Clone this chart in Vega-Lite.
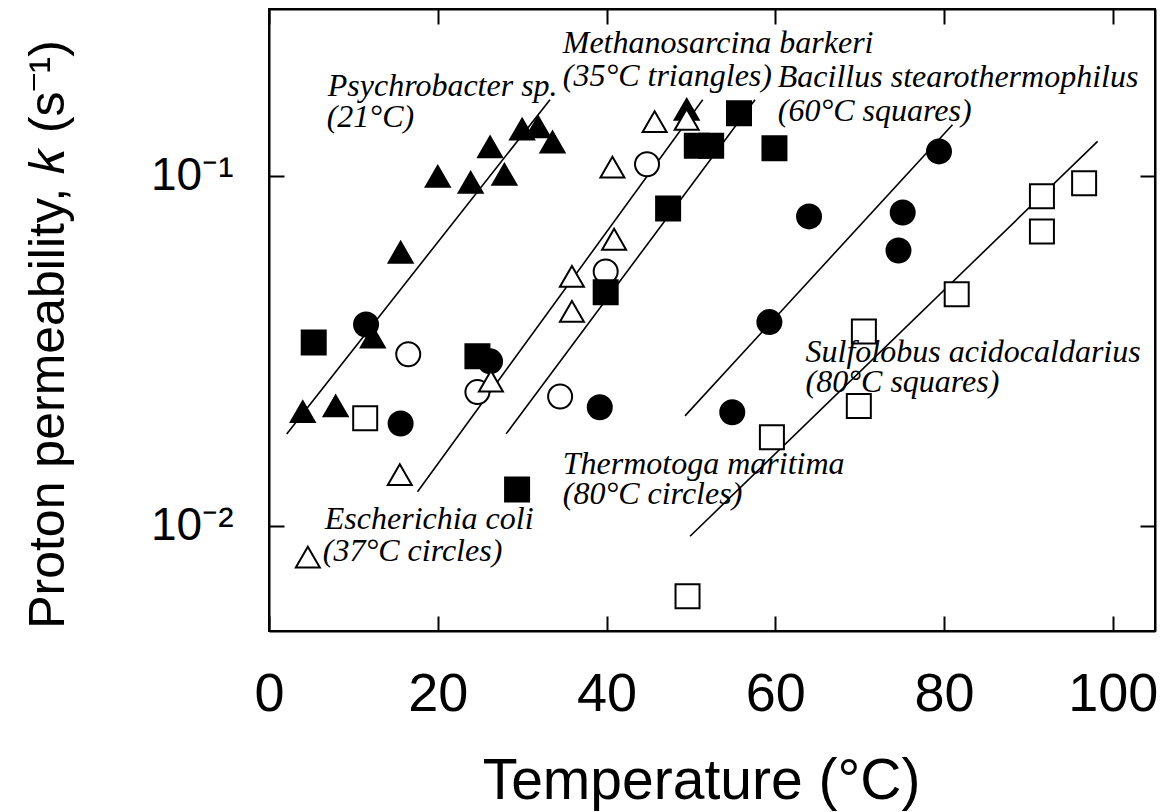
{
  "$schema": "https://vega.github.io/schema/vega-lite/v6.json",
  "width": 886,
  "height": 622,
  "autosize": {"type": "none"},
  "padding": {"left": 269, "top": 9, "right": 10, "bottom": 181},
  "background": "white",
  "config": {
    "view": {"stroke": "black", "strokeWidth": 2},
    "axis": {
      "domainColor": "black", "domainWidth": 2,
      "tickColor": "black", "tickWidth": 2,
      "labelColor": "black", "titleColor": "black",
      "labelFont": "Liberation Sans", "titleFont": "Liberation Sans",
      "titleFontWeight": "normal", "grid": false, "labelFlush": false
    }
  },
  "datasets": {
    "lines": [
      {"series": "Psychrobacter", "temp": 2.1, "k": 0.0183},
      {"series": "Psychrobacter", "temp": 33.3, "k": 0.165},
      {"series": "E. coli", "temp": 17.6, "k": 0.0125},
      {"series": "E. coli", "temp": 51.4, "k": 0.165},
      {"series": "Bacillus", "temp": 28.1, "k": 0.0183},
      {"series": "Bacillus", "temp": 57.6, "k": 0.165},
      {"series": "Thermotoga", "temp": 49.3, "k": 0.0206},
      {"series": "Thermotoga", "temp": 81.0, "k": 0.140},
      {"series": "Sulfolobus", "temp": 49.9, "k": 0.00933},
      {"series": "Sulfolobus", "temp": 98.2, "k": 0.1255}
    ],
    "points": [
      {"species": "E. coli", "temp": 44.8, "k": 0.108},
      {"species": "E. coli", "temp": 39.9, "k": 0.0533},
      {"species": "E. coli", "temp": 16.5, "k": 0.0309},
      {"species": "E. coli", "temp": 24.7, "k": 0.0241},
      {"species": "E. coli", "temp": 34.5, "k": 0.0234},
      {"species": "Bacillus", "temp": 55.7, "k": 0.151},
      {"species": "Bacillus", "temp": 50.7, "k": 0.122},
      {"species": "Bacillus", "temp": 52.4, "k": 0.122},
      {"species": "Bacillus", "temp": 59.9, "k": 0.120},
      {"species": "Bacillus", "temp": 47.3, "k": 0.0807},
      {"species": "Bacillus", "temp": 39.9, "k": 0.0465},
      {"species": "Bacillus", "temp": 5.3, "k": 0.0334},
      {"species": "Bacillus", "temp": 24.7, "k": 0.0305},
      {"species": "Bacillus", "temp": 29.4, "k": 0.0127},
      {"species": "Thermotoga", "temp": 11.5, "k": 0.0376},
      {"species": "Thermotoga", "temp": 15.6, "k": 0.0196},
      {"species": "Thermotoga", "temp": 26.2, "k": 0.0295},
      {"species": "Thermotoga", "temp": 39.2, "k": 0.0218},
      {"species": "Thermotoga", "temp": 54.9, "k": 0.0211},
      {"species": "Thermotoga", "temp": 59.3, "k": 0.0382},
      {"species": "Thermotoga", "temp": 79.4, "k": 0.1175},
      {"species": "Thermotoga", "temp": 64.0, "k": 0.0766},
      {"species": "Thermotoga", "temp": 75.1, "k": 0.0786},
      {"species": "Thermotoga", "temp": 74.6, "k": 0.0612},
      {"species": "Psychrobacter", "temp": 4.0, "k": 0.0212},
      {"species": "Psychrobacter", "temp": 7.9, "k": 0.0220},
      {"species": "Psychrobacter", "temp": 12.3, "k": 0.0346},
      {"species": "Psychrobacter", "temp": 15.6, "k": 0.0605},
      {"species": "Psychrobacter", "temp": 20.0, "k": 0.0997},
      {"species": "Psychrobacter", "temp": 23.9, "k": 0.0958},
      {"species": "Psychrobacter", "temp": 26.2, "k": 0.121},
      {"species": "Psychrobacter", "temp": 27.9, "k": 0.101},
      {"species": "Psychrobacter", "temp": 30.0, "k": 0.136},
      {"species": "Psychrobacter", "temp": 31.9, "k": 0.138},
      {"species": "Psychrobacter", "temp": 33.6, "k": 0.125},
      {"species": "Psychrobacter", "temp": 49.5, "k": 0.155},
      {"species": "Methanosarcina", "temp": 45.7, "k": 0.143},
      {"species": "Methanosarcina", "temp": 49.5, "k": 0.145},
      {"species": "Methanosarcina", "temp": 40.7, "k": 0.106},
      {"species": "Methanosarcina", "temp": 40.9, "k": 0.0659},
      {"species": "Methanosarcina", "temp": 35.9, "k": 0.0516},
      {"species": "Methanosarcina", "temp": 35.9, "k": 0.0410},
      {"species": "Methanosarcina", "temp": 26.3, "k": 0.0259},
      {"species": "Methanosarcina", "temp": 15.5, "k": 0.0140},
      {"species": "Methanosarcina", "temp": 4.6, "k": 0.00813},
      {"species": "Sulfolobus", "temp": 11.4, "k": 0.0203},
      {"species": "Sulfolobus", "temp": 49.6, "k": 0.00629},
      {"species": "Sulfolobus", "temp": 59.6, "k": 0.0179},
      {"species": "Sulfolobus", "temp": 69.9, "k": 0.0220},
      {"species": "Sulfolobus", "temp": 70.5, "k": 0.0359},
      {"species": "Sulfolobus", "temp": 81.5, "k": 0.0459},
      {"species": "Sulfolobus", "temp": 91.6, "k": 0.0874},
      {"species": "Sulfolobus", "temp": 91.6, "k": 0.0694},
      {"species": "Sulfolobus", "temp": 96.6, "k": 0.0952}
    ],
    "notes": [
      {"label": "Psychrobacter sp.", "temp": 6.96, "k": 0.1687},
      {"label": "(21°C)", "temp": 6.84, "k": 0.1376},
      {"label": "Methanosarcina barkeri", "temp": 34.81, "k": 0.2239},
      {"label": "(35°C triangles)", "temp": 34.81, "k": 0.1802},
      {"label": "Bacillus stearothermophilus", "temp": 60.3, "k": 0.179},
      {"label": "(60°C squares)", "temp": 60.3, "k": 0.144},
      {"label": "Escherichia coli", "temp": 6.61, "k": 0.00977},
      {"label": "(37°C circles)", "temp": 6.37, "k": 0.00792},
      {"label": "Thermotoga maritima", "temp": 34.81, "k": 0.01404},
      {"label": "(80°C circles)", "temp": 34.81, "k": 0.01151},
      {"label": "Sulfolobus acidocaldarius", "temp": 63.59, "k": 0.02931},
      {"label": "(80°C squares)", "temp": 63.59, "k": 0.02406}
    ]
  },
  "layer": [
    {
      "data": {"name": "lines"},
      "mark": {"type": "line", "stroke": "black", "strokeWidth": 1.6},
      "encoding": {
        "x": {
          "field": "temp", "type": "quantitative",
          "scale": {"domain": [0, 105], "nice": false, "zero": false},
          "axis": {
            "orient": "bottom", "values": [0, 20, 40, 60, 80, 100],
            "tickSize": -15, "labelFontSize": 54, "labelPadding": 51, "labelFlush": false,
            "title": "Temperature (°C)", "titleFontSize": 57,
            "titleX": 432, "titleY": 167, "titleBaseline": "alphabetic", "titleAlign": "center"
          }
        },
        "y": {
          "field": "k", "type": "quantitative",
          "scale": {"type": "log", "domain": [0.005, 0.3], "nice": false},
          "axis": {
            "orient": "left", "values": [0.01, 0.1],
            "labelExpr": "datum.value > 0.05 ? '10⁻¹' : '10⁻²'",
            "tickSize": -15, "labelFontSize": 46, "labelPadding": 51,
            "title": "Proton permeability, 𝑘 (s⁻¹)", "titleFontSize": 50,
            "titleX": -221, "titleY": 325, "titleAngle": -90,
            "titleBaseline": "middle", "titleAlign": "center"
          }
        },
        "detail": {"field": "series"}
      }
    },
    {
      "data": {"name": "points"},
      "mark": {"type": "point", "filled": true, "stroke": "black", "strokeWidth": 2, "opacity": 1},
      "encoding": {
        "x": {
          "field": "temp", "type": "quantitative",
          "axis": {"orient": "top", "values": [0, 20, 40, 60, 80, 100], "labels": false, "title": null, "tickSize": -15}
        },
        "y": {
          "field": "k", "type": "quantitative",
          "axis": {"orient": "right", "values": [0.01, 0.1], "labels": false, "title": null, "tickSize": -15}
        },
        "shape": {
          "field": "species", "type": "nominal", "legend": null,
          "scale": {
            "domain": ["Psychrobacter", "Methanosarcina", "E. coli", "Thermotoga", "Bacillus", "Sulfolobus"],
            "range": ["triangle-up", "triangle-up", "circle", "circle", "square", "square"]
          }
        },
        "fill": {
          "field": "species", "type": "nominal", "legend": null,
          "scale": {
            "domain": ["Psychrobacter", "Methanosarcina", "E. coli", "Thermotoga", "Bacillus", "Sulfolobus"],
            "range": ["black", "white", "white", "black", "black", "white"]
          }
        },
        "size": {
          "field": "species", "type": "nominal", "legend": null,
          "scale": {
            "domain": ["Psychrobacter", "Methanosarcina", "E. coli", "Thermotoga", "Bacillus", "Sulfolobus"],
            "range": [576, 576, 600, 600, 380, 380]
          }
        }
      }
    },
    {
      "data": {"name": "notes"},
      "mark": {
        "type": "text", "align": "left", "baseline": "alphabetic",
        "font": "Liberation Serif", "fontStyle": "italic", "fontSize": 32, "color": "black"
      },
      "encoding": {
        "x": {"field": "temp", "type": "quantitative", "axis": null},
        "y": {"field": "k", "type": "quantitative", "axis": null},
        "text": {"field": "label"}
      }
    }
  ],
  "resolve": {"axis": {"x": "independent", "y": "independent"}}
}
